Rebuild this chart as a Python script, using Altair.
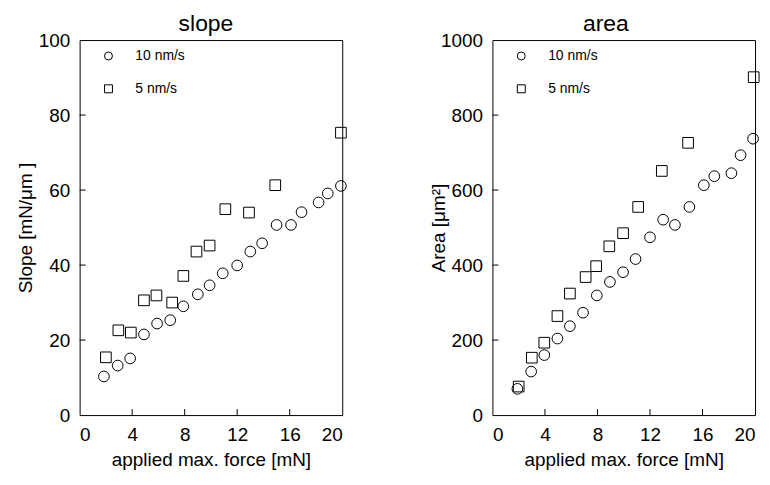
import altair as alt
import pandas as pd

FONT = "Liberation Sans"

series_names = ["10 nm/s", "5 nm/s"]
series_shapes = ["circle", "square"]

# slope panel
slope_10_x = [1.85, 2.9, 3.85, 4.9, 5.9, 6.9, 7.9, 9.0, 9.9, 10.9, 12.0, 13.0, 13.9, 15.0, 16.1, 16.9, 18.2, 18.9, 19.9]
slope_10_y = [10.3, 13.2, 15.1, 21.5, 24.4, 25.3, 29.0, 32.2, 34.6, 37.8, 39.9, 43.6, 45.8, 50.7, 50.7, 54.1, 56.7, 59.1, 61.1]
slope_5_x = [2.0, 2.95, 3.9, 4.9, 5.85, 7.05, 7.9, 8.9, 9.9, 11.1, 12.9, 14.9, 19.9]
slope_5_y = [15.4, 22.6, 22.0, 30.6, 31.9, 30.0, 37.1, 43.6, 45.2, 54.9, 54.0, 61.3, 75.3]

# area panel
area_10_x = [1.9, 2.95, 3.95, 4.95, 5.9, 6.9, 7.95, 8.95, 9.95, 10.9, 12.0, 13.0, 13.9, 15.0, 16.1, 16.9, 18.2, 18.9, 19.85]
area_10_y = [70, 116, 160, 204, 237, 273, 319, 355, 381, 416, 474, 521, 507, 555, 613, 637, 645, 693, 737]
area_5_x = [2.0, 3.0, 3.95, 4.95, 5.9, 7.1, 7.9, 8.9, 9.95, 11.1, 12.9, 14.9, 19.9]
area_5_y = [76, 153, 193, 264, 324, 368, 397, 450, 485, 555, 651, 726, 901]

x_labels = [0, 4, 8, 12, 16, 20]
x_inner_ticks = [4, 8, 12, 16]
slope_labels = [0, 20, 40, 60, 80, 100]
slope_inner_ticks = [20, 40, 60, 80]
area_labels = [0, 200, 400, 600, 800, 1000]
area_inner_ticks = [200, 400, 600, 800]

W, H = 264, 377


def frame(x10, y10, x5, y5):
    return pd.DataFrame({
        "x": x10 + x5,
        "y": y10 + y5,
        "series": [series_names[0]] * len(x10) + [series_names[1]] * len(x5),
    })


def panel(df, ymax, ylabels, yticks, ytitle, ytitle_pad, title, title_dx):
    xscale = alt.Scale(domain=[0, 20], nice=False, zero=False)
    yscale = alt.Scale(domain=[0, ymax], nice=False)
    points = alt.Chart(df).mark_point(filled=False, color="black", strokeWidth=1, size=115, opacity=1).encode(
        x=alt.X("x:Q", scale=xscale, axis=alt.Axis(
            values=x_labels, format="d", ticks=False, tickSize=0, domain=False, grid=False,
            labelFontSize=19, labelPadding=11, labelFont=FONT, labelColor="black",
            title="applied max. force [mN]", titleFontSize=19, titleFont=FONT,
            titleFontWeight="normal", titlePadding=6, titleColor="black")),
        y=alt.Y("y:Q", scale=yscale, axis=alt.Axis(
            values=ylabels, format="d", ticks=False, tickSize=0, domain=False, grid=False,
            labelFontSize=19, labelPadding=10, labelFont=FONT, labelColor="black",
            title=ytitle, titleFontSize=19, titleFont=FONT,
            titleFontWeight="normal", titlePadding=ytitle_pad, titleColor="black")),
        shape=alt.Shape("series:N", scale=alt.Scale(domain=series_names, range=series_shapes),
                        legend=alt.Legend(title=None, orient="none", legendX=22, legendY=9,
                                          labelFontSize=14, labelFont=FONT, labelColor="black",
                                          symbolSize=64, symbolStrokeColor="black",
                                          symbolStrokeWidth=1, symbolFillColor="transparent",
                                          labelOffset=20, rowPadding=19, padding=0)),
    )
    xt = alt.Chart(pd.DataFrame({"x": x_inner_ticks})).mark_rule(color="black", strokeWidth=1).encode(
        x=alt.X("x:Q", scale=xscale),
        y=alt.value(H), y2=alt.value(H - 6))
    yt = alt.Chart(pd.DataFrame({"y": yticks})).mark_rule(color="black", strokeWidth=1).encode(
        y=alt.Y("y:Q", scale=yscale),
        x=alt.value(0), x2=alt.value(6))
    return alt.layer(points, xt, yt).properties(
        width=W, height=H,
        title=alt.TitleParams(title, fontSize=23, font=FONT, fontWeight="normal",
                              color="black", offset=-5, dx=title_dx, frame="group"))


left = panel(frame(slope_10_x, slope_10_y, slope_5_x, slope_5_y), 100, slope_labels,
             slope_inner_ticks, "Slope [mN/μm ]", 3, "slope", -5)
right = panel(frame(area_10_x, area_10_y, area_5_x, area_5_y), 1000, area_labels,
              area_inner_ticks, "Area [μm²]", -8, "area", -18)

chart = alt.hconcat(left, right, spacing=80).resolve_scale(shape="independent").resolve_legend(
    shape="independent").configure(
    background="white", padding={"left": 7, "top": 3, "right": 0, "bottom": 0}).configure_view(
    stroke="black", strokeWidth=1)

chart.save("out.html", embed_options={"renderer": "svg", "actions": False})
